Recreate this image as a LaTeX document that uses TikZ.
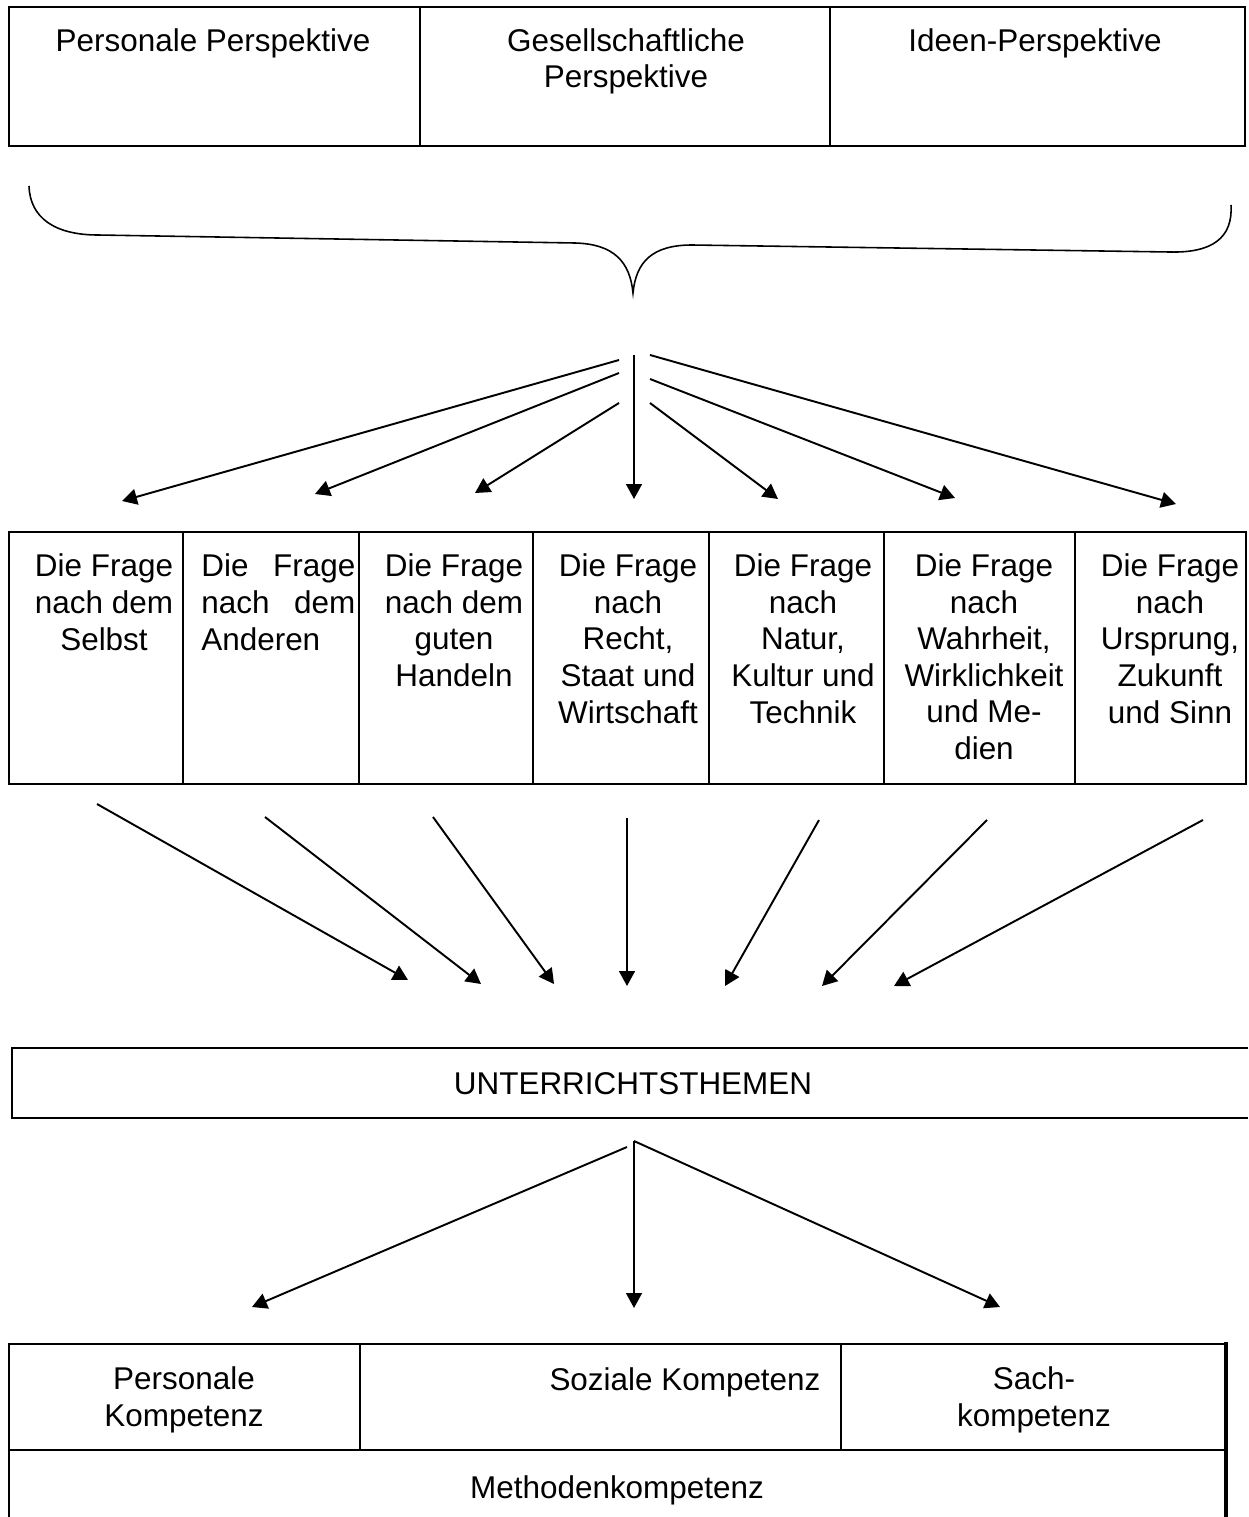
\documentclass[tikz,border=0pt]{standalone}
\usepackage{fontspec}
\setmainfont{Liberation Sans}
\usetikzlibrary{arrows.meta}

\begin{document}
\begin{tikzpicture}
        [x=0.02cm, y=-0.02cm,
        >={Triangle[length=8.5pt, width=9pt]},
        txt/.style={anchor=base, inner sep=0pt, align=center, font=\fontsize{17.9}{20.8}\selectfont},
        frame/.style={line width=1.4pt},
        divider/.style={line width=1.1pt},
        arrow/.style={line width=1.1pt, ->}]
        \useasboundingbox (0,0) rectangle (1248,1517);

        % Perspektiven (Knoten sitzen auf der Grundlinie der letzten Zeile)
        \draw[frame] (9,7) rectangle (1245,146);
        \draw[divider] (420,7) -- (420,146);
        \draw[divider] (830,7) -- (830,146);
        \node[txt] (P1) at (213,52) {Personale Perspektive};
        \node[txt] (P2) at (626,88) {Gesellschaftliche\\Perspektive};
        \node[txt] (P3) at (1035,52) {Ideen-Perspektive};

        % Klammer
        \draw[line width=0.9pt] (29,186) .. controls (30,218) and (55,235) .. (98,235)
            -- (575,243) .. controls (614,244) and (630,262) .. (633,293)
            .. controls (636,262) and (652,245) .. (692,245)
            -- (1170,252) .. controls (1212,253) and (1233,238) .. (1231,205);

        % obere Pfeile
        \coordinate (U1) at (619,360); \coordinate (T1) at (122,501);
        \coordinate (U2) at (619,373); \coordinate (T2) at (315,494);
        \coordinate (U3) at (619,403); \coordinate (T3) at (475,493);
        \coordinate (U4) at (634,355); \coordinate (T4) at (634,499);
        \coordinate (U5) at (650,403); \coordinate (T5) at (778,499);
        \coordinate (U6) at (650,379); \coordinate (T6) at (955,498);
        \coordinate (U7) at (650,355); \coordinate (T7) at (1176,504);
        \draw[arrow] (U1) -- (T1);
        \draw[arrow] (U2) -- (T2);
        \draw[arrow] (U3) -- (T3);
        \draw[arrow] (U4) -- (T4);
        \draw[arrow] (U5) -- (T5);
        \draw[arrow] (U6) -- (T6);
        \draw[arrow] (U7) -- (T7);

        % Fragen
        \draw[frame] (9,532) rectangle (1246,784);
        \foreach \x in {183,359,533,709,884,1075}
            \draw[divider] (\x,532) -- (\x,784);
        \node[txt] (F1) at (104,650) {Die Frage\\nach dem\\Selbst};
        \node[txt, anchor=base west, align=left] (F2) at (201,650) {\makebox[3.08cm][s]{Die Frage}\\\makebox[3.08cm][s]{nach dem}\\Anderen};
        \node[txt] (F3) at (454,686.5) {Die Frage\\nach dem\\guten\\Handeln};
        \node[txt] (F4) at (628,723) {Die Frage\\nach\\Recht,\\Staat und\\Wirtschaft};
        \node[txt] (F5) at (803,723) {Die Frage\\nach\\Natur,\\Kultur und\\Technik};
        \node[txt] (F6) at (984,759.5) {Die Frage\\nach\\Wahrheit,\\Wirklichkeit\\und Me-\\dien};
        \node[txt] (F7) at (1170,723) {Die Frage\\nach\\Ursprung,\\Zukunft\\und Sinn};

        % untere Pfeile
        \coordinate (V1) at (97,804);   \coordinate (S1) at (408,980);
        \coordinate (V2) at (265,817);  \coordinate (S2) at (481,984);
        \coordinate (V3) at (433,817);  \coordinate (S3) at (554,984);
        \coordinate (V4) at (627,818);  \coordinate (S4) at (627,986);
        \coordinate (V5) at (819,820);  \coordinate (S5) at (725,986);
        \coordinate (V6) at (987,820);  \coordinate (S6) at (822,986);
        \coordinate (V7) at (1203,820); \coordinate (S7) at (894,986);
        \draw[arrow] (V1) -- (S1);
        \draw[arrow] (V2) -- (S2);
        \draw[arrow] (V3) -- (S3);
        \draw[arrow] (V4) -- (S4);
        \draw[arrow] (V5) -- (S5);
        \draw[arrow] (V6) -- (S6);
        \draw[arrow] (V7) -- (S7);

        % Unterrichtsthemen
        \draw[frame] (1248,1048) -- (12,1048) -- (12,1118) -- (1248,1118);
        \node[txt] (U) at (633,1094) {UNTERRICHTSTHEMEN};

        \coordinate (A1) at (627,1147); \coordinate (A2) at (634,1141);
        \coordinate (K1t) at (252,1307);
        \coordinate (K2t) at (634,1308);
        \coordinate (K3t) at (1000,1307);
        \draw[arrow] (A1) -- (K1t);
        \draw[arrow] (A2) -- (K2t);
        \draw[arrow] (A2) -- (K3t);

        % Kompetenzen
        \draw[frame] (9,1517) -- (9,1344) -- (1226,1344);
        \draw[line width=2.3pt] (1226,1342) -- (1226,1517);
        \draw[divider] (9,1450) -- (1226,1450);
        \draw[divider] (360,1344) -- (360,1450);
        \draw[divider] (841,1344) -- (841,1450);
        \node[txt] (K1) at (184,1426) {Personale\\Kompetenz};
        \node[txt] (K2) at (685,1390) {Soziale Kompetenz};
        \node[txt] (K3) at (1034,1426) {Sach-\\kompetenz};
        \node[txt] (K4) at (617,1498) {Methodenkompetenz};

\end{tikzpicture}
\end{document}
